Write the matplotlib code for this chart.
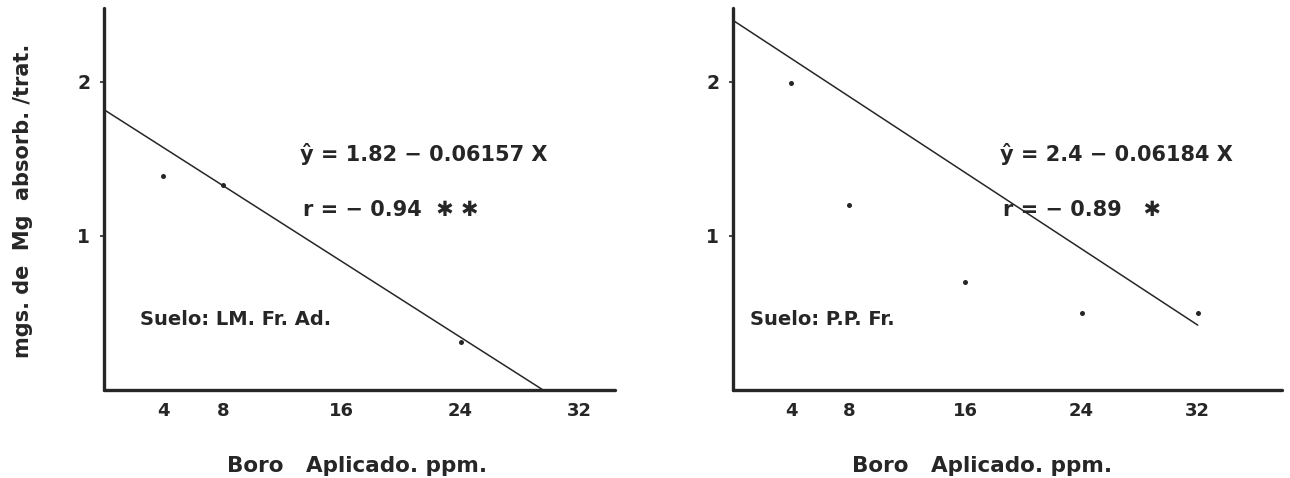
import matplotlib
matplotlib.use("Agg")
import matplotlib.pyplot as plt
import numpy as np

# Boron applied (ppm) and Mg absorbed per treatment (mg), two soils
boro_ticks = [4, 8, 16, 24, 32]
y_ticks = [1, 2]

# Soil LM. Fr. Ad.
x_lm = [4, 8, 24]
mg_lm = [1.39, 1.33, 0.31]
a_lm, b_lm = 1.82, -0.06157
x_lm_end = 29.56

# Soil P.P. Fr.
x_pp = [4, 8, 16, 24, 32]
mg_pp = [1.99, 1.20, 0.70, 0.50, 0.50]
a_pp, b_pp = 2.4, -0.06184
x_pp_end = 32

eq_lm = "ŷ = 1.82 − 0.06157 X"
r_lm = "r = − 0.94  ✱ ✱"
eq_pp = "ŷ = 2.4 − 0.06184 X"
r_pp = "r = − 0.89   ✱"
suelo_lm = "Suelo: LM. Fr. Ad."
suelo_pp = "Suelo: P.P. Fr."
xlabel = "Boro   Aplicado. ppm."
ylabel = "mgs. de  Mg  absorb. /trat."

INK = "#262626"
W, H = 1290, 478
fig = plt.figure(figsize=(W / 100, H / 100), dpi=100)
fig.patch.set_facecolor("white")

bottom = 88 / H
height = 382 / H
ax1 = fig.add_axes([104 / W, bottom, 511 / W, height])
ax2 = fig.add_axes([733 / W, bottom, 549 / W, height])

panels = [
    (ax1, x_lm, mg_lm, a_lm, b_lm, x_lm_end, 34.4, eq_lm, r_lm, suelo_lm, 13.2, 2.4),
    (ax2, x_pp, mg_pp, a_pp, b_pp, x_pp_end, 37.8, eq_pp, r_pp, suelo_pp, 18.4, 1.2),
]

for ax, xs, ys, a, b, xend, xmax, eq, rtxt, suelo, xeq, xs_lab in panels:
    ax.set_xlim(0, xmax)
    ax.set_ylim(0, 2.48)
    for s in ["top", "right"]:
        ax.spines[s].set_visible(False)
    for s in ["left", "bottom"]:
        ax.spines[s].set_linewidth(2.4)
        ax.spines[s].set_color(INK)
        ax.spines[s].set_capstyle("round")

    xl = np.array([0, xend])
    ax.plot(xl, a + b * xl, color=INK, lw=1.1, solid_capstyle="round")
    ax.plot(xs, ys, "o", color=INK, ms=3.6, mec="none")

    ax.set_xticks(boro_ticks)
    ax.set_xticklabels([str(t) for t in boro_ticks])
    ax.set_yticks(y_ticks)
    ax.set_yticklabels([str(t) for t in y_ticks])
    ax.tick_params(axis="x", length=0, pad=9, labelsize=13, colors=INK)
    ax.tick_params(axis="y", length=3, width=1.2, pad=7, labelsize=13.5, colors=INK)
    for lab in ax.get_xticklabels() + ax.get_yticklabels():
        lab.set_fontweight("heavy")

    ax.text(xeq, 1.53, eq, fontsize=15, fontweight="heavy", color=INK,
            ha="left", va="center")
    ax.text(xeq + 0.2, 1.17, rtxt, fontsize=15, fontweight="heavy", color=INK,
            ha="left", va="center")
    ax.text(xs_lab, 0.46, suelo, fontsize=14, fontweight="heavy", color=INK,
            ha="left", va="center")

fig.text(357 / W, (H - 466) / H, xlabel, fontsize=15.5, fontweight="heavy",
         color=INK, ha="center", va="center")
fig.text(982 / W, (H - 466) / H, xlabel, fontsize=15.5, fontweight="heavy",
         color=INK, ha="center", va="center")
fig.text(23 / W, (H - 201) / H, ylabel, fontsize=15, fontweight="heavy",
         color=INK, ha="center", va="center", rotation=90)

fig.savefig("out.png", dpi=100, facecolor="white")
